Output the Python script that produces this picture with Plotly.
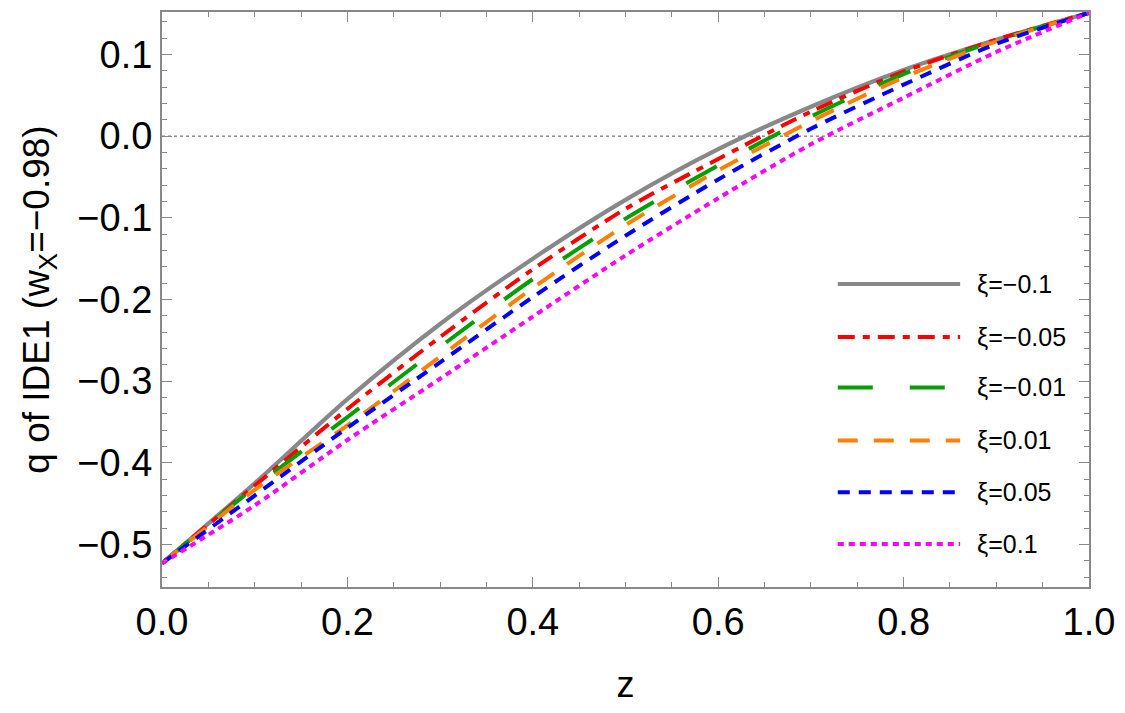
import plotly.graph_objects as go

z = [0.0, 0.1, 0.2, 0.3, 0.4, 0.5, 0.6, 0.7, 0.8, 0.9, 1.0]

q_m010 = [-0.523, -0.425, -0.322, -0.230, -0.150, -0.078, -0.016, 0.036, 0.081, 0.118, 0.151]
q_m005 = [-0.523, -0.428, -0.334, -0.246, -0.163, -0.089, -0.028, 0.030, 0.079, 0.118, 0.151]
q_m001 = [-0.523, -0.430, -0.344, -0.258, -0.175, -0.101, -0.036, 0.024, 0.076, 0.117, 0.151]
q_p001 = [-0.523, -0.433, -0.354, -0.270, -0.186, -0.109, -0.042, 0.018, 0.072, 0.116, 0.151]
q_p005 = [-0.523, -0.440, -0.357, -0.277, -0.197, -0.122, -0.053, 0.009, 0.063, 0.113, 0.151]
q_p010 = [-0.523, -0.452, -0.372, -0.297, -0.221, -0.146, -0.076, -0.010, 0.047, 0.103, 0.151]

labels = ["ξ=−0.1", "ξ=−0.05", "ξ=−0.01", "ξ=0.01", "ξ=0.05", "ξ=0.1"]
series = [q_m010, q_m005, q_m001, q_p001, q_p005, q_p010]
colors = ["#888888", "#ff0000", "#00a000", "#ff8000", "#0000ff", "#ff00ff"]
dashes = ["solid", "17px,8px,7px,8px", "35px,37px", "20px,16px", "12px,9px", "6px,5px"]
widths = [4.2, 4, 4, 4, 4, 4]

FONT = "Liberation Sans, Arial, sans-serif"

fig = go.Figure()
for lab, ys, c, d, w in zip(labels, series, colors, dashes, widths):
    fig.add_trace(go.Scatter(x=z, y=ys, mode="lines", name=lab,
                             line=dict(color=c, dash=d, width=w, shape="spline", smoothing=0.8),
                             showlegend=False))

fig.add_hline(y=0, line=dict(color="#555555", width=1, dash="dot"), layer="below")

# manual legend (Mathematica style, long line samples)
row_y = [0.527, 0.435, 0.347, 0.255, 0.165, 0.075]
for lab, c, d, w, yy in zip(labels, colors, dashes, widths, row_y):
    fig.add_shape(type="line", xref="paper", yref="paper", x0=0.729, x1=0.861, y0=yy, y1=yy,
                  line=dict(color=c, dash=d, width=w))
    fig.add_annotation(xref="paper", yref="paper", x=0.877, y=yy, text=lab, showarrow=False,
                       xanchor="left", yanchor="middle", font=dict(family=FONT, size=25, color="black"))

axis_common = dict(showline=True, linecolor="#888888", linewidth=2, mirror="allticks",
                   ticks="inside", ticklen=10, tickwidth=1.2, tickcolor="#888888",
                   showgrid=False, zeroline=False,
                   tickfont=dict(family=FONT, size=38, color="black"))

fig.update_xaxes(range=[0, 1], tickvals=[0, 0.2, 0.4, 0.6, 0.8, 1.0], tickformat=".1f",
                 minor=dict(dtick=0.05, ticks="inside", ticklen=5, tickcolor="#888888", tickwidth=1, showgrid=False),
                 title=dict(text="z", font=dict(family=FONT, size=36, color="black"), standoff=30),
                 **axis_common)
fig.update_yaxes(range=[-0.552, 0.152], tickvals=[-0.5, -0.4, -0.3, -0.2, -0.1, 0.0, 0.1],
                 ticktext=["−0.5", "−0.4", "−0.3", "−0.2", "−0.1", "0.0", "0.1"],
                 minor=dict(dtick=0.02, tick0=0, ticks="inside", ticklen=5, tickcolor="#888888", tickwidth=1, showgrid=False),
                 title=dict(text="q of IDE1 (w<sub>X</sub>=−0.98)", font=dict(family=FONT, size=37, color="black"), standoff=16),
                 **axis_common)

fig.update_layout(width=1125, height=713, margin=dict(l=162, r=33, t=10, b=126),
                  plot_bgcolor="white", paper_bgcolor="white", showlegend=False)

fig.write_html("out.html")
